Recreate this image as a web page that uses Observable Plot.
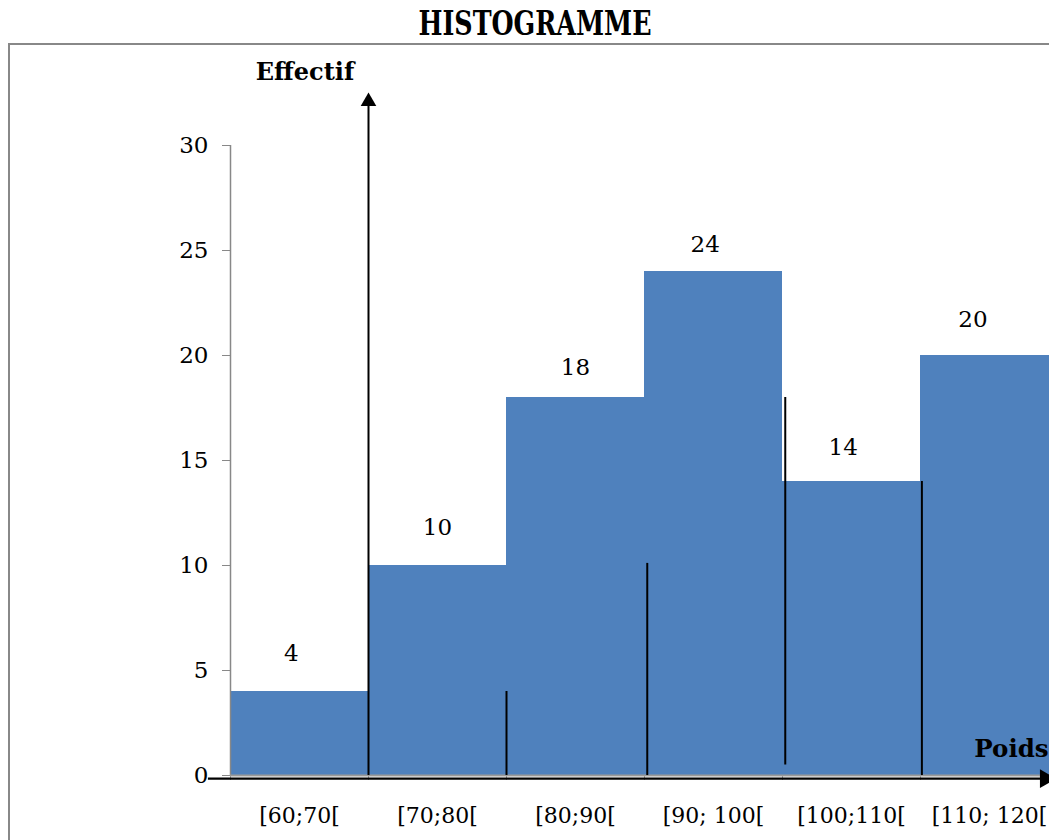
<!DOCTYPE html>
<html><head><meta charset="utf-8">
<script src="https://cdn.jsdelivr.net/npm/d3@7"></script>
<script src="https://cdn.jsdelivr.net/npm/@observablehq/plot@0.6"></script>
<style>
html,body{margin:0;padding:0;background:#fff;overflow:hidden;width:1049px;height:840px;}
#title{position:absolute;left:535px;top:5px;transform-origin:0 0;font-family:"DejaVu Serif Condensed","DejaVu Serif",serif;font-stretch:condensed;font-weight:bold;font-size:33px;line-height:38px;white-space:nowrap;color:#000;}
#frame{position:absolute;left:8px;top:43px;width:1100px;height:900px;border-left:2px solid #888;border-top:2px solid #888;}
#chart{position:absolute;left:10px;top:45px;}
</style></head><body>
<div id="title">HISTOGRAMME</div>
<div id="frame"></div>
<div id="chart"></div>
<script>
const classLow = [60, 70, 80, 90, 100, 110];
const classHigh = [70, 80, 90, 100, 110, 120];
const classLabels = ["[60;70[", "[70;80[", "[80;90[", "[90; 100[", "[100;110[", "[110; 120["];
const counts = [4, 10, 18, 24, 14, 20];
const yTicks = [0, 5, 10, 15, 20, 25, 30];
// value-label anchors (data units)
const labelX = [64.4, 75, 85, 94.4, 104.4, 113.8];
const labelY = [5.8, 11.8, 19.4, 25.3, 15.6, 21.7];
// hand-drawn black vertical strokes (data units)
const segX = [80, 90.2, 100.2, 110.1];
const segY1 = [0, 0, 0.5, 0];
const segY2 = [4, 10.1, 18, 14];

const bars = classLow.map((lo, i) => ({lo, hi: classHigh[i], n: counts[i], label: classLabels[i], lx: labelX[i], ly: labelY[i], mid: (lo + classHigh[i]) / 2}));
const segs = segX.map((x, i) => ({x, y1: segY1[i], y2: segY2[i]}));

const chart = Plot.plot({
  width: 1039,
  height: 795,
  marginLeft: 220, marginRight: 0, marginTop: 100, marginBottom: 65,
  x: {type: "linear", domain: [60, 120], range: [220, 1048]},
  y: {domain: [0, 30], range: [730, 100]},
  style: {fontFamily: "DejaVu Serif", fontSize: "22px", color: "#000", background: "transparent", overflow: "visible"},
  marks: [
    Plot.rectY(bars, {x1: "lo", x2: "hi", y1: 0, y2: "n", fill: "#4F81BD"}),
    Plot.ruleX([60], {y1: 0, y2: 30, stroke: "#888", strokeWidth: 1.5}),
    Plot.ruleY([0], {x1: 60, x2: 120, stroke: "#999", strokeWidth: 2}),
    Plot.axisY(yTicks, {tickSize: 8, tickPadding: 14, stroke: "#888", fill: "#000", fontSize: 23, label: null, tickFormat: d => String(d)}),
    Plot.axisX(classLow, {tickSize: 5, stroke: "#999", tickFormat: () => "", label: null}),
    Plot.text(bars, {x: "mid", y: 0, text: "label", dy: 40, fontSize: 22, fill: "#000"}),
    Plot.text(bars, {x: "lx", y: "ly", text: d => String(d.n), fontSize: 23, fill: "#000"}),
    Plot.ruleX(segs, {x: "x", y1: "y1", y2: "y2", stroke: "#000", strokeWidth: 2}),
    Plot.ruleX([70], {y1: 0, y2: 31.9, stroke: "#000", strokeWidth: 2}),
    Plot.dot([{x: 70, y: 32.1}], {x: "x", y: "y", symbol: "triangle", r: 5.8, fill: "#000", stroke: null}),
    Plot.ruleY([-0.15], {x1: 58.4, x2: 120, stroke: "#000", strokeWidth: 2.2}),
    Plot.dot([{x: 119.05, y: -0.15}], {x: "x", y: "y", symbol: "triangle", r: 7, rotate: 90, fill: "#000", stroke: null}),
    Plot.text(["Effectif"], {x: 65.4, y: 33.5, text: d => d, fontWeight: "bold", fontSize: 24, fill: "#000"}),
    Plot.text(["Poids"], {x: 113.9, y: 1.25, text: d => d, textAnchor: "start", fontWeight: "bold", fontSize: 24.5, fill: "#000"})
  ]
});
document.getElementById("chart").appendChild(chart);
// fit the title to the reference width (≈233px), centred at x=535
const t = document.getElementById("title");
const w = t.getBoundingClientRect().width;
const k = 233 / w;
t.style.transform = `translateX(${-233 / 2}px) scaleX(${k})`;
</script>
</body></html>
